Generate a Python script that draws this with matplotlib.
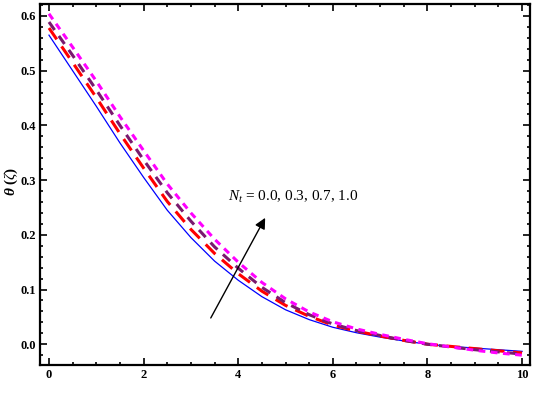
import matplotlib
matplotlib.use("Agg")
import matplotlib.pyplot as plt
from matplotlib.ticker import MultipleLocator

plt.rcParams['font.family'] = ['Liberation Serif', 'DejaVu Serif']
plt.rcParams['mathtext.fontset'] = 'custom'
plt.rcParams['mathtext.rm'] = 'Liberation Serif'
plt.rcParams['mathtext.it'] = 'Liberation Serif:italic'
plt.rcParams['mathtext.bf'] = 'Liberation Serif:bold'
plt.rcParams['mathtext.bfit'] = 'Liberation Serif:bold:italic'

xi = [0, 0.5, 1, 1.5, 2, 2.5, 3, 3.5, 4, 4.5, 5, 5.5, 6, 6.5, 7, 7.5, 8, 8.5, 9, 9.5, 10]
theta_00 = [0.565, 0.500, 0.435, 0.368, 0.305, 0.245, 0.195, 0.152, 0.117, 0.087, 0.063,
            0.045, 0.031, 0.021, 0.013, 0.006, 0.000, -0.004, -0.007, -0.010, -0.013]
theta_03 = [0.578, 0.515, 0.451, 0.385, 0.322, 0.261, 0.210, 0.166, 0.129, 0.097, 0.071,
            0.051, 0.035, 0.024, 0.015, 0.007, 0.000, -0.004, -0.008, -0.012, -0.016]
theta_07 = [0.589, 0.528, 0.465, 0.400, 0.337, 0.277, 0.225, 0.178, 0.139, 0.104, 0.076,
            0.054, 0.037, 0.025, 0.016, 0.007, 0.000, -0.005, -0.010, -0.014, -0.018]
theta_10 = [0.604, 0.543, 0.481, 0.416, 0.354, 0.293, 0.240, 0.192, 0.150, 0.113, 0.083,
            0.059, 0.041, 0.028, 0.018, 0.009, 0.001, -0.005, -0.011, -0.016, -0.020]

fig = plt.figure(figsize=(5.36, 3.95), dpi=100)
ax = fig.add_axes([0.0746, 0.0759, 0.9144, 0.9141])

ax.plot(xi, theta_00, color='#0000FF', lw=0.9)
ax.plot(xi, theta_03, color='#FF0000', lw=2.2, dashes=(4.5, 2.8))
ax.plot(xi, theta_07, color='#7A1A6E', lw=2.2, dashes=(3.2, 2.4))
ax.plot(xi, theta_10, color='#FF00FF', lw=2.2, dashes=(2.2, 1.8))

ax.annotate('', xy=(4.57, 0.231), xytext=(3.42, 0.048),
            arrowprops=dict(arrowstyle='-|>', color='black', lw=1.0,
                            mutation_scale=16, shrinkA=0, shrinkB=0))
ax.text(3.78, 0.27, r'$N_t$ = 0.0, 0.3, 0.7, 1.0', fontsize=11, va='center', ha='left')

ax.set_xlim(-0.19, 10.17)
ax.set_ylim(-0.038, 0.622)
ax.xaxis.set_major_locator(MultipleLocator(2))
ax.xaxis.set_minor_locator(MultipleLocator(0.5))
ax.yaxis.set_major_locator(MultipleLocator(0.1))
ax.yaxis.set_minor_locator(MultipleLocator(0.02))
ax.tick_params(which='both', direction='in', top=True, right=True, width=1.2)
ax.tick_params(which='major', length=5, labelsize=9, pad=3)
ax.tick_params(which='minor', length=2.5)
ax.yaxis.set_major_formatter(plt.FuncFormatter(lambda v, p: f'{v:.1f}'))
for lab in ax.get_xticklabels() + ax.get_yticklabels():
    lab.set_fontweight('bold')
for s in ax.spines.values():
    s.set_linewidth(1.6)

ax.set_ylabel(r'$\boldsymbol{\theta}$ ($\zeta$)', fontsize=11, fontweight='bold')
ax.yaxis.set_label_coords(-0.040, 0.51)
ax.set_xlabel(r'$\zeta$', fontsize=11)
ax.xaxis.set_label_coords(0.5, -0.085)

fig.savefig('out.png', dpi=100)
